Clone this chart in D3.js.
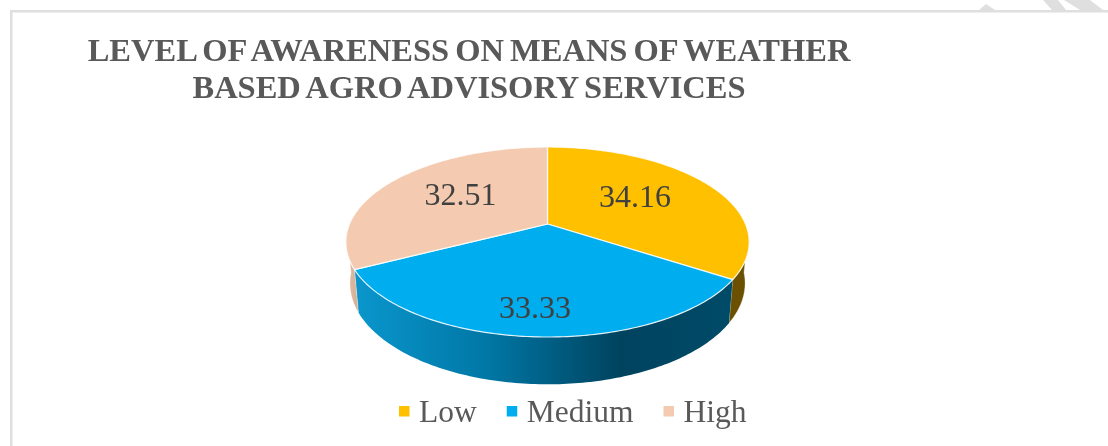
<!DOCTYPE html>
<style>
  body { margin: 0; background: white; }
  svg { display: block; font-family: "Liberation Serif", serif; filter: blur(0.4px); }
  .title { font-size: 32.5px; font-weight: bold; fill: #595959; text-anchor: middle; word-spacing: -2px; }
  .label { font-size: 32px; fill: #404040; text-anchor: middle; }
  .legend { font-size: 31.5px; fill: #595959; }
</style>
<body>
</body>
<script src="https://cdn.jsdelivr.net/npm/d3@7"></script>
<script>
  const titleLines = ['LEVEL OF AWARENESS ON MEANS OF WEATHER', 'BASED AGRO ADVISORY SERVICES'];
  const categories = ['Low', 'Medium', 'High'];
  const values = [34.16, 33.33, 32.51];
  const colors = ['#ffc000', '#00aeef', '#f4cbb0'];

  const w = 1108, h = 446;
  const svg = d3.select('body').append('svg').attr('width', w).attr('height', h);

  // scan leftovers: watermark corners and the frame
  const chrome = svg.append('g').attr('fill', '#dfdfdf');
  [[[979, 10], [986, 4], [995, 10]],
   [[1043, 0], [1058, 0], [1066, 10], [1052, 10]],
   [[1064, 0], [1090, 0], [1103, 10], [1080, 10]]].forEach(p => {
    chrome.append('polygon').attr('points', p.join(' '));
  });
  chrome.append('rect').attr('x', 10).attr('y', 10).attr('width', w - 10).attr('height', 2.5);
  chrome.append('rect').attr('x', 10).attr('y', 10).attr('width', 2.5).attr('height', h - 10);

  svg.selectAll('.title')
    .data(titleLines)
    .join('text')
    .attr('class', 'title')
    .attr('x', 469)
    .attr('y', (d, i) => 61 + i * 37)
    .text(d => d);

  // perspective pie: unit circle projected so the apex sits above the ellipse centre
  const cx = 547.5, k = 0.1895;
  const topFace = {a: 198, b: 91.6, y0: 224};
  const baseFace = {a: 194, b: 97.5, y0: 264};
  const project = (t, r, f) => {
    const u = r * Math.sin(t), v = -r * Math.cos(t), d = 1 - k * v;
    return [cx + f.a * u / d, f.y0 + f.b * v / d];
  };
  const rim = (a0, a1, f) => {
    const n = Math.ceil(Math.abs(a1 - a0) * 60);
    return d3.range(n + 1).map(i => project(a0 + (a1 - a0) * i / n, 1, f));
  };
  const line = d3.line();

  const arcs = d3.pie().sort(null)(values);
  const rad = d => d * Math.PI / 180;

  const defs = svg.append('defs');
  const gradient = (id, x1, x2, stops) => {
    const g = defs.append('linearGradient').attr('id', id)
      .attr('gradientUnits', 'userSpaceOnUse')
      .attr('x1', x1).attr('x2', x2).attr('y1', 0).attr('y2', 0);
    stops.forEach(s => g.append('stop').attr('offset', s[0]).attr('stop-color', s[1]));
  };
  gradient('wall-medium', 356, 733, [[0, '#0a96cc'], [0.35, '#0077a5'], [0.7, '#00435f'], [1, '#004b68']]);
  gradient('wall-high', 346, 358, [[0, '#e3bfa8'], [1, '#d3ae96']]);

  // side wall, only the part of each slice that faces the viewer
  const wallRange = [
    [rad(95), arcs[0].endAngle],
    [arcs[1].startAngle, arcs[1].endAngle],
    [arcs[2].startAngle, rad(265)]
  ];
  const wallFill = ['#6a5000', 'url(#wall-medium)', 'url(#wall-high)'];
  svg.append('g').selectAll('path')
    .data(wallRange)
    .join('path')
    .attr('fill', (d, i) => wallFill[i])
    .attr('stroke', '#fff')
    .attr('stroke-opacity', (d, i) => i == 1 ? 0 : 0.5)
    .attr('stroke-width', 0.7)
    .attr('d', d => line(rim(d[0], d[1], topFace).concat(rim(d[1], d[0], baseFace))) + 'Z');

  // top faces
  svg.append('g').selectAll('path')
    .data(arcs)
    .join('path')
    .attr('fill', (d, i) => colors[i])
    .attr('stroke', '#fff')
    .attr('stroke-opacity', 0.85)
    .attr('stroke-width', 1.2)
    .attr('stroke-linejoin', 'round')
    .attr('d', d => line([project(0, 0, topFace)].concat(rim(d.startAngle, d.endAngle, topFace))) + 'Z');

  // data labels start from the slice centroid, then nudged the way the original sits
  const labelShift = [[-11.4, 8], [-5.6, 32], [8.6, 8]];
  svg.selectAll('.label')
    .data(arcs)
    .join('text')
    .attr('class', 'label')
    .attr('transform', (d, i) => {
      const p = project((d.startAngle + d.endAngle) / 2, 0.6, topFace);
      return `translate(${p[0] + labelShift[i][0]}, ${p[1] + labelShift[i][1]})`;
    })
    .text(d => d.value.toFixed(2));

  // legend flows left to right from measured text widths
  let lx = 399;
  const legend = svg.append('g');
  categories.forEach((c, i) => {
    legend.append('rect')
      .attr('x', lx).attr('y', 406).attr('width', 10.5).attr('height', 10.5)
      .attr('fill', colors[i]);
    const t = legend.append('text')
      .attr('class', 'legend')
      .attr('x', lx + 20).attr('y', 422)
      .text(c);
    lx += 20 + t.node().getComputedTextLength() + 30;
  });
</script>
